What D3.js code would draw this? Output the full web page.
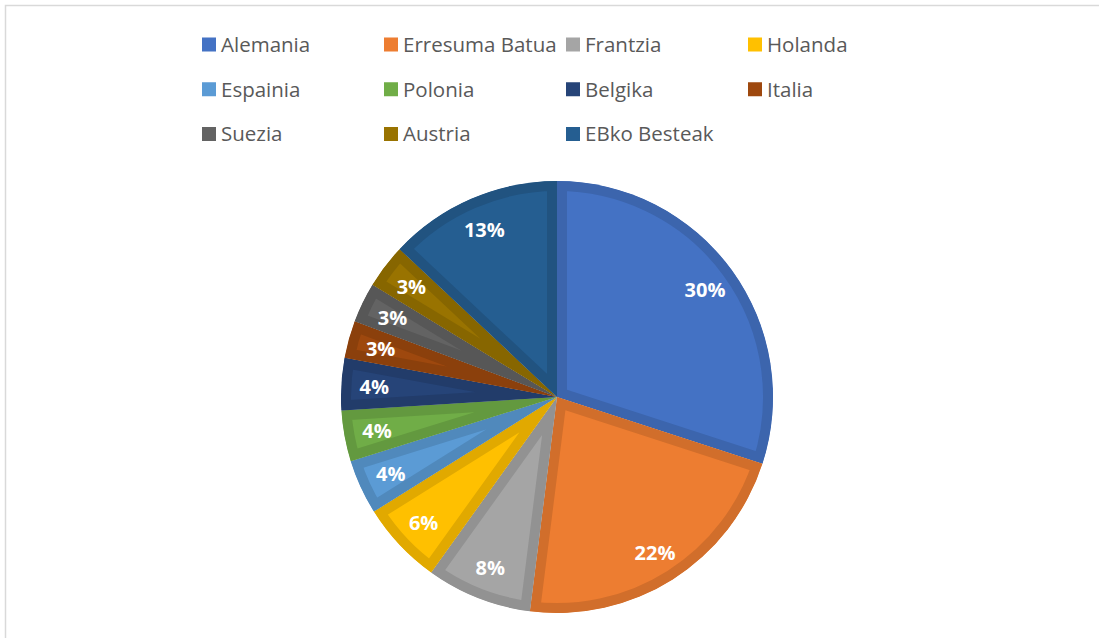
<!DOCTYPE html>
<html>
<head>
<meta charset="utf-8">
<script src="https://cdn.jsdelivr.net/npm/d3@7"></script>
<style>
  body { margin: 0; background: #fff; }
  svg { display: block; }
</style>
</head>
<body>
<div id="chart"></div>
<script>
// countries (legend + slices, clockwise from 12 o'clock)
const countries = ["Alemania", "Erresuma Batua", "Frantzia", "Holanda",
    "Espainia", "Polonia", "Belgika", "Italia",
    "Suezia", "Austria", "EBko Besteak"];
// share of total, in percent
const shares = [30.0, 22.0, 7.9, 6.2, 4.1, 3.8, 3.9, 2.8, 3.0, 3.3, 13.0];
const colors = ["#4472C4", "#ED7D31", "#A5A5A5", "#FFC000",
    "#5B9BD5", "#70AD47", "#264478", "#9E480E",
    "#636363", "#997300", "#255E91"];

const width = 1099, height = 638;
const cx = 557, cy = 397, radius = 216;

const svg = d3.select("#chart")
    .append("svg")
    .attr("width", width)
    .attr("height", height);

// chart area frame (only top/left visible in the picture)
svg.append("rect")
    .attr("x", 5.5)
    .attr("y", 5.5)
    .attr("width", width + 20)
    .attr("height", height + 20)
    .attr("fill", "none")
    .attr("stroke", "#d9d9d9")
    .attr("stroke-width", 1.5);

// legend
const legendX = d3.scalePoint().domain([0, 1, 2, 3]).range([202, 748]);
const legendY = d3.scalePoint().domain([0, 1, 2]).range([44.5, 134]);

const legend = svg.append("g");
const items = legend.selectAll("g")
    .data(countries)
    .join("g")
    .attr("transform", (d, i) => "translate(" + legendX(i % 4) + "," + legendY(Math.floor(i / 4)) + ")");
items.append("rect")
    .attr("x", 0)
    .attr("y", -7)
    .attr("width", 14)
    .attr("height", 14)
    .attr("fill", (d, i) => colors[i]);
items.append("text")
    .attr("x", 19)
    .attr("y", 0)
    .attr("dy", "0.36em")
    .attr("font-family", "'Open Sans', sans-serif")
    .attr("font-size", 20.5)
    .attr("fill", "#595959")
    .text(d => d);

// pie
const pie = d3.pie().sort(null).value(d => d)(shares);
const arc = d3.arc().innerRadius(0).outerRadius(radius);
const labelArc = d3.arc().innerRadius(183).outerRadius(183);

const g = svg.append("g").attr("transform", "translate(" + cx + "," + cy + ")");
const defs = svg.append("defs");

defs.selectAll("clipPath")
    .data(pie)
    .join("clipPath")
    .attr("id", (d, i) => "slice" + i)
    .append("path")
    .attr("d", arc);

// slice with a darker inner rim (stroke clipped to the slice shape)
g.selectAll("path.slice")
    .data(pie)
    .join("path")
    .attr("class", "slice")
    .attr("d", arc)
    .attr("fill", (d, i) => colors[i])
    .attr("stroke", (d, i) => d3.color(colors[i]).darker(0.35))
    .attr("stroke-width", 20)
    .attr("stroke-linejoin", "miter")
    .attr("clip-path", (d, i) => "url(#slice" + i + ")");

g.selectAll("text.label")
    .data(pie)
    .join("text")
    .attr("class", "label")
    .attr("transform", d => "translate(" + labelArc.centroid(d) + ")")
    .attr("text-anchor", "middle")
    .attr("dy", "0.4em")
    .attr("font-family", "'Open Sans', sans-serif")
    .attr("font-weight", "bold")
    .attr("font-size", 20)
    .attr("fill", "#fff")
    .text(d => Math.round(d.data) + "%");
</script>
</body>
</html>
